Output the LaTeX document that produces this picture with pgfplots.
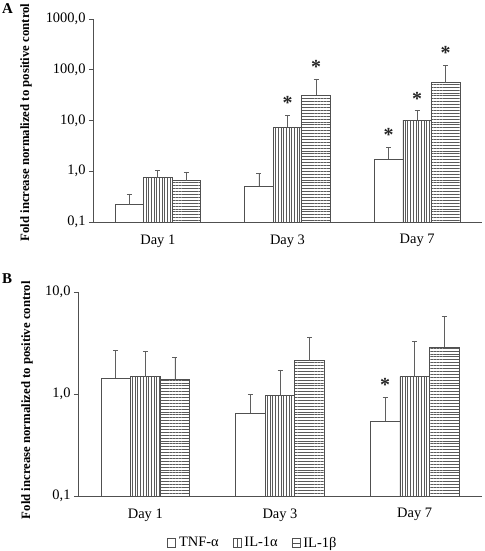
\documentclass[border=0pt]{standalone}
\usepackage{pgfplots}
\pgfplotsset{compat=1.18}
\usepackage{fontspec}
\setmainfont{Liberation Serif}
\usetikzlibrary{patterns.meta}
\definecolor{edge}{RGB}{80,80,80}
\definecolor{errc}{RGB}{95,95,95}
\definecolor{patc}{RGB}{90,90,90}

\pgfplotsset{
  errstyle/.style={
    error bars/y dir=plus, error bars/y explicit,
    error bars/error bar style={errc, line width=0.8bp},
    error bars/error mark=-,
    error bars/error mark options={rotate=90, mark size=2.5bp, errc, line width=0.8bp}},
  tnf/.style={bar shift=-0.22, draw=edge, line width=0.7bp, fill=white, errstyle, forget plot},
  ila/.style={bar shift=0, draw=edge, line width=0.7bp,
    pattern={Lines[angle=90, distance=2.7bp, line width=0.55bp]}, pattern color=patc, errstyle, forget plot},
  ilb/.style={bar shift=0.22, draw=edge, line width=0.7bp,
    pattern={Lines[angle=0, distance=2.9bp, line width=0.55bp]}, pattern color=patc, errstyle, forget plot},
  star/.style={draw=none, fill=none, forget plot,
    nodes near coords={\textbf{*}},
    every node near coord/.append style={anchor=south, yshift=2bp, text=black!85,
      font=\fontsize{20}{20}\selectfont}},
}

\begin{document}
\begin{tikzpicture}
\path[use as bounding box] (0,0) rectangle (485bp,-551bp);

\node[anchor=north west, inner sep=0pt, font=\fontsize{15}{15}\selectfont\bfseries] at (2bp,-3bp) {A};
\node[anchor=north west, inner sep=0pt, font=\fontsize{15}{15}\selectfont\bfseries] at (2bp,-274bp) {B};

% Panel A
\begin{axis}[
  scale only axis,
  ybar, bar width=0.22,
  ymode=log,
  log origin=infty,
  xmin=-0.5, xmax=2.5,
  axis lines*=left,
  axis line style={edge, line width=0.8bp},
  tick align=outside,
  xtick={0,1,2},
  xticklabels={Day 1, Day 3, Day 7},
  xtick style={draw=none},
  minor xtick={-0.5,0.5,1.5,2.5},
  minor tick length=5bp,
  major tick length=4bp,
  ytick style={edge, line width=0.8bp},
  minor x tick style={edge, line width=0.8bp},
  yminorticks=false,
  /pgf/number format/assume math mode=true,
  tick label style={font=\fontsize{14.5}{15}\selectfont},
  xticklabel style={yshift=-5bp},
  ylabel={Fold increase normalized to positive control},
  ylabel style={font=\fontsize{12.8}{13}\selectfont\bfseries, anchor=center, at={(axis description cs:-0.172,0.49)}},
  at={(93bp,-222bp)}, anchor=south west,
  width=389bp, height=203bp,
  ymin=0.1, ymax=1000,
  ytick={0.1,1,10,100,1000},
  yticklabels={{0,1},{1,0},{10,0},{100,0},{1000,0}},
]
\addplot[tnf] coordinates {(0,0.22) +- (0,0.137) (1,0.51) +- (0,0.38) (2,1.73) +- (0,1.25)};
\addplot[ila] coordinates {(0,0.75) +- (0,0.27) (1,7.4) +- (0,5.3) (2,10.2) +- (0,5.5)};
\addplot[ilb] coordinates {(0,0.65) +- (0,0.32) (1,31.6) +- (0,34.4) (2,56) +- (0,67)};
\addplot[star, bar shift=0] coordinates {(1,12.7) (2,15.7)};
\addplot[star, bar shift=0.22] coordinates {(1,66) (2,123)};
\addplot[star, bar shift=-0.22] coordinates {(2,2.98)};
\end{axis}

% Panel B
\begin{axis}[
  scale only axis,
  ybar, bar width=0.22,
  ymode=log,
  log origin=infty,
  xmin=-0.5, xmax=2.5,
  axis lines*=left,
  axis line style={edge, line width=0.8bp},
  tick align=outside,
  xtick={0,1,2},
  xticklabels={Day 1, Day 3, Day 7},
  xtick style={draw=none},
  minor xtick={-0.5,0.5,1.5,2.5},
  minor tick length=5bp,
  major tick length=4bp,
  ytick style={edge, line width=0.8bp},
  minor x tick style={edge, line width=0.8bp},
  yminorticks=false,
  /pgf/number format/assume math mode=true,
  tick label style={font=\fontsize{14.5}{15}\selectfont},
  xticklabel style={yshift=-5bp},
  ylabel={Fold increase normalized to positive control},
  ylabel style={font=\fontsize{12.8}{13}\selectfont\bfseries, anchor=center, at={(axis description cs:-0.126,0.47)}},
  at={(78bp,-496bp)}, anchor=south west,
  width=404bp, height=204bp,
  ymin=0.1, ymax=10,
  ytick={0.1,1,10},
  yticklabels={{0,1},{1,0},{10,0}},
  legend style={at={(axis description cs:0.433,-0.23)}, anchor=center, draw=none,
    font=\fontsize{14.5}{15}\selectfont,
    /tikz/every odd column/.append style={column sep=1bp},
    /tikz/every even column/.append style={column sep=12bp}},
  legend columns=3,
]
\addplot[tnf] coordinates {(0,1.44) +- (0,1.26) (1,0.65) +- (0,0.35) (2,0.54) +- (0,0.39)};
\addplot[ila] coordinates {(0,1.48) +- (0,1.16) (1,0.96) +- (0,0.76) (2,1.48) +- (0,1.79)};
\addplot[ilb] coordinates {(0,1.39) +- (0,0.89) (1,2.13) +- (0,1.50) (2,2.87) +- (0,2.87)};
\addplot[star, bar shift=-0.22] coordinates {(2,0.93)};
\addlegendimage{legend image code/.code={\draw[edge, line width=0.7bp, fill=white] (0bp,-4.5bp) rectangle (8bp,4.5bp);}}
\addlegendentry{TNF-α}
\addlegendimage{legend image code/.code={\draw[edge, line width=0.7bp, fill=white] (0bp,-4.5bp) rectangle (8bp,4.5bp); \draw[edge, line width=0.7bp] (4bp,-4.5bp) -- (4bp,4.5bp);}}
\addlegendentry{IL-1α}
\addlegendimage{legend image code/.code={\draw[edge, line width=0.7bp, fill=white] (0bp,-4.5bp) rectangle (8bp,4.5bp); \draw[edge, line width=0.7bp] (0bp,0bp) -- (8bp,0bp);}}
\addlegendentry{IL-1β}
\end{axis}
\end{tikzpicture}
\end{document}
